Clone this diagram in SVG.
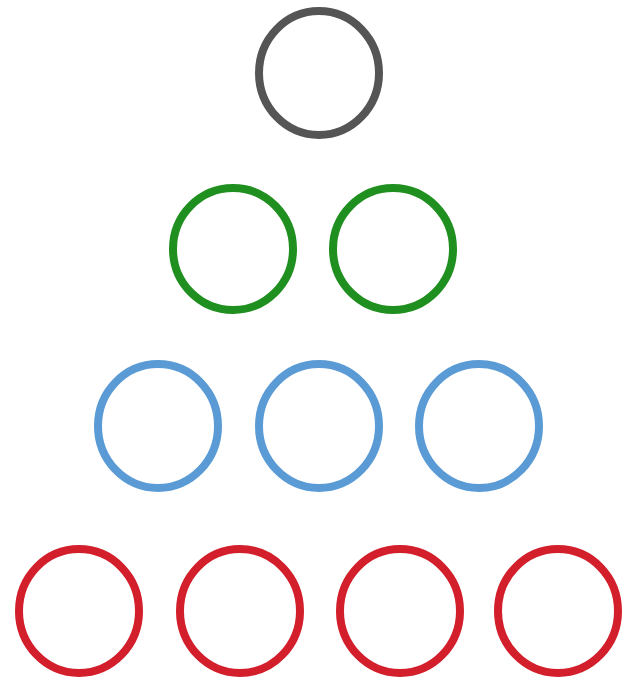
<svg xmlns="http://www.w3.org/2000/svg" width="628" height="682" viewBox="0 0 628 682">
<style>
ellipse{fill:none;stroke-width:8}
.g{stroke:#555555}
.gr{stroke:#1f8f1f}
.b{stroke:#5b9bd5}
.r{stroke:#d21f2b}
</style>
<rect width="628" height="682" fill="#ffffff"/>
<g id="n1"><ellipse class="g" cx="319" cy="73" rx="60" ry="62"/></g>
<g id="n2"><ellipse class="gr" cx="233" cy="249" rx="60" ry="61"/></g>
<g id="n3"><ellipse class="gr" cx="393" cy="249" rx="60" ry="61"/></g>
<g id="n4"><ellipse class="b" cx="158" cy="426" rx="60" ry="62"/></g>
<g id="n5"><ellipse class="b" cx="319" cy="426" rx="60" ry="62"/></g>
<g id="n6"><ellipse class="b" cx="479" cy="426" rx="60" ry="62"/></g>
<g id="n7"><ellipse class="r" cx="79" cy="611" rx="60" ry="62"/></g>
<g id="n8"><ellipse class="r" cx="240" cy="611" rx="60" ry="62"/></g>
<g id="n9"><ellipse class="r" cx="400" cy="611" rx="60" ry="62"/></g>
<g id="n10"><ellipse class="r" cx="558" cy="611" rx="60" ry="62"/></g>
<g id="connectors"></g>
</svg>
